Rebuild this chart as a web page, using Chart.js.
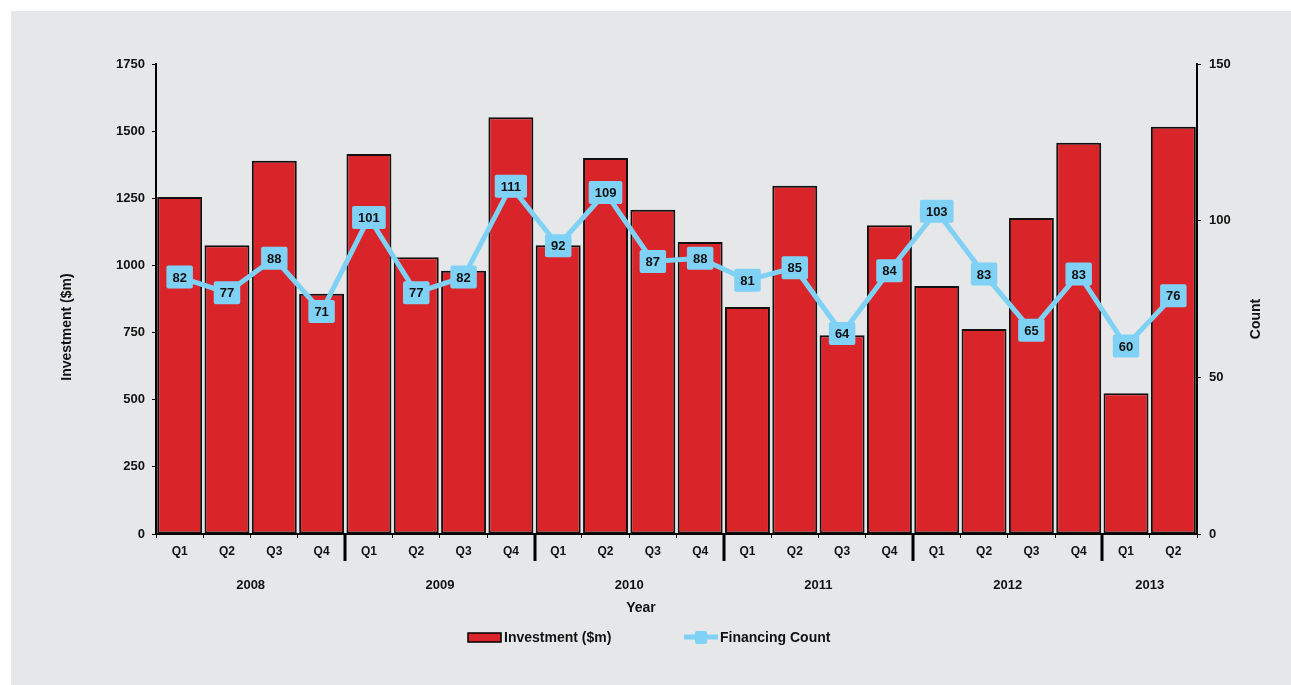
<!DOCTYPE html>
<html>
<head>
<meta charset="utf-8">
<script src="https://cdn.jsdelivr.net/npm/chart.js@4.4.0/dist/chart.umd.min.js"></script>
<style>
  body { margin: 0; background: #fff; }
  canvas { display: block; }
</style>
</head>
<body>
<canvas id="chart" width="1291" height="685"></canvas>
<script>
// data
const quarters = ["Q1","Q2","Q3","Q4","Q1","Q2","Q3","Q4","Q1","Q2","Q3","Q4","Q1","Q2","Q3","Q4","Q1","Q2","Q3","Q4","Q1","Q2"];
const years = ["2008","2009","2010","2011","2012","2013"];
const yearSizes = [4, 4, 4, 4, 4, 2];
const investment = [1255, 1075, 1390, 895, 1415, 1030, 980, 1552, 1075, 1400, 1207, 1087, 845, 1297, 740, 1150, 923, 763, 1177, 1457, 524, 1516];
const financingCount = [82, 77, 88, 71, 101, 77, 82, 111, 92, 109, 87, 88, 81, 85, 64, 84, 103, 83, 65, 83, 60, 76];
const leftTicks = [0, 250, 500, 750, 1000, 1250, 1500, 1750];
const rightTicks = [0, 50, 100, 150];

const RED = "#d9252a";
const BLUE = "#7fd2f6";
const FONT = "'Liberation Sans', Arial, sans-serif";

// grey panel behind everything
const panelBg = {
  id: "panelBg",
  beforeDraw(chart) {
    let c = chart.ctx;
    c.save();
    c.fillStyle = "#fff";
    c.fillRect(0, 0, chart.width, chart.height);
    c.fillStyle = "#e6e7e8";
    c.fillRect(11, 11, chart.width - 11, chart.height - 11);
    c.restore();
  }
};

// year labels, separators, titles, value boxes, legend
const extras = {
  id: "extras",
  afterDatasetsDraw(chart) {
    let c = chart.ctx;
    let x = chart.scales.x;
    let area = chart.chartArea;
    c.save();

    // year separators + year labels
    let idx = 0;
    c.fillStyle = "#111";
    c.font = "bold 13px " + FONT;
    c.textAlign = "center";
    c.textBaseline = "middle";
    yearSizes.forEach((n, i) => {
      let first = x.getPixelForValue(idx);
      let last = x.getPixelForValue(idx + n - 1);
      c.fillText(years[i], (first + last) / 2, 585);
      idx += n;
      if (idx < quarters.length) {
        let sep = (x.getPixelForValue(idx - 1) + x.getPixelForValue(idx)) / 2;
        c.fillStyle = "#000";
        c.fillRect(Math.round(sep) - 1.5, area.bottom, 3, 27);
        c.fillStyle = "#111";
      }
    });

    // axis titles
    c.font = "bold 14px " + FONT;
    c.fillText("Year", 641, 608);
    c.save();
    c.translate(67, 327);
    c.rotate(-Math.PI / 2);
    c.fillText("Investment ($m)", 0, 0);
    c.restore();
    c.save();
    c.translate(1256, 319);
    c.rotate(-Math.PI / 2);
    c.fillText("Count", 0, 0);
    c.restore();

    // value boxes on the line
    let meta = chart.getDatasetMeta(1);
    c.font = "bold 13px " + FONT;
    meta.data.forEach((pt, i) => {
      let txt = String(financingCount[i]);
      let w = c.measureText(txt).width + 12;
      let h = 23;
      c.fillStyle = BLUE;
      c.beginPath();
      c.roundRect(pt.x - w / 2, pt.y - h / 2, w, h, 2);
      c.fill();
      c.fillStyle = "#111";
      c.fillText(txt, pt.x, pt.y + 1);
    });

    // legend
    c.font = "bold 14px " + FONT;
    c.fillStyle = RED;
    c.fillRect(468, 633, 33, 9);
    c.strokeStyle = "#000";
    c.lineWidth = 1.5;
    c.strokeRect(468, 633, 33, 9);
    c.fillStyle = "#111";
    c.textAlign = "left";
    c.fillText("Investment ($m)", 504, 638);
    c.strokeStyle = BLUE;
    c.lineWidth = 5;
    c.beginPath();
    c.moveTo(684, 637);
    c.lineTo(718, 637);
    c.stroke();
    c.fillStyle = BLUE;
    c.beginPath();
    c.roundRect(695, 631, 12, 13, 2);
    c.fill();
    c.fillStyle = "#111";
    c.fillText("Financing Count", 720, 638);

    c.restore();
  }
};

const numFont = { family: FONT, size: 13, weight: "bold" };
const catFont = { family: FONT, size: 12, weight: "bold" };

new Chart(document.getElementById("chart"), {
  type: "bar",
  data: {
    labels: quarters,
    datasets: [
      {
        type: "bar",
        label: "Investment ($m)",
        data: investment,
        yAxisID: "y",
        backgroundColor: RED,
        borderColor: "#111",
        borderWidth: 2,
        borderSkipped: false,
        categoryPercentage: 1,
        barPercentage: 0.95,
        order: 2
      },
      {
        type: "line",
        label: "Financing Count",
        data: financingCount,
        yAxisID: "y1",
        borderColor: BLUE,
        borderWidth: 5,
        pointRadius: 0,
        tension: 0,
        order: 1
      }
    ]
  },
  options: {
    responsive: false,
    animation: false,
    devicePixelRatio: 1,
    layout: { padding: { top: 64, left: 0, right: 0, bottom: 0 } },
    plugins: {
      legend: { display: false },
      tooltip: { enabled: false }
    },
    scales: {
      x: {
        offset: true,
        grid: { offset: true, drawOnChartArea: false, tickLength: 4, color: "#000", lineWidth: 1 },
        border: { color: "#000", width: 2 },
        ticks: { color: "#111", font: catFont, padding: 6, maxRotation: 0, autoSkip: false },
        afterFit(s) { s.height = 151; }
      },
      y: {
        position: "left",
        min: 0,
        max: 1750,
        afterBuildTicks(s) { s.ticks = leftTicks.map(v => ({ value: v })); },
        grid: { drawOnChartArea: false, tickLength: 4, color: "#000" },
        border: { color: "#000", width: 2 },
        ticks: { color: "#111", font: numFont, padding: 7, callback: v => String(v) },
        afterFit(s) { s.width = 156; }
      },
      y1: {
        position: "right",
        min: 0,
        max: 150,
        afterBuildTicks(s) { s.ticks = rightTicks.map(v => ({ value: v })); },
        grid: { drawOnChartArea: false, tickLength: 4, color: "#000" },
        border: { color: "#000", width: 2 },
        ticks: { color: "#111", font: numFont, padding: 8, callback: v => String(v) },
        afterFit(s) { s.width = 94; }
      }
    }
  },
  plugins: [panelBg, extras]
});
</script>
</body>
</html>
